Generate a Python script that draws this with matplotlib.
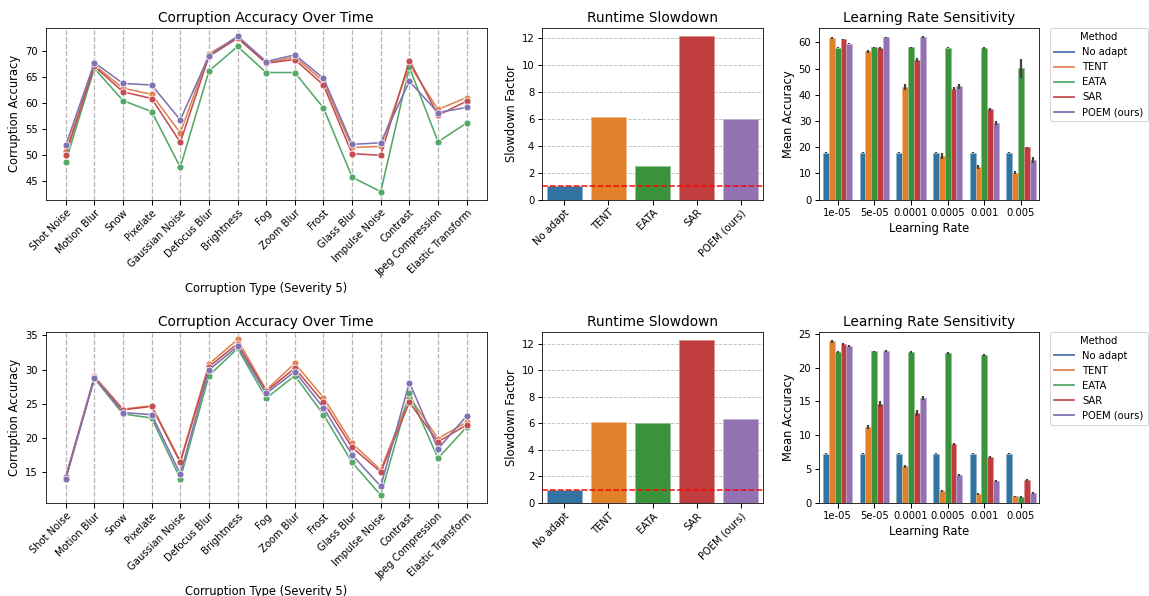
import numpy as np
import matplotlib
matplotlib.use("Agg")
import matplotlib.pyplot as plt
from matplotlib.lines import Line2D
import seaborn as sns

# ---------------- data ----------------
corruptions = ["Shot Noise", "Motion Blur", "Snow", "Pixelate", "Gaussian Noise",
               "Defocus Blur", "Brightness", "Fog", "Zoom Blur", "Frost",
               "Glass Blur", "Impulse Noise", "Contrast", "Jpeg Compression",
               "Elastic Transform"]
methods = ["No adapt", "TENT", "EATA", "SAR", "POEM (ours)"]
line_methods = ["TENT", "EATA", "SAR", "POEM (ours)"]
learning_rates = ["1e-05", "5e-05", "0.0001", "0.0005", "0.001", "0.005"]

# top row: accuracy per corruption
acc_top_tent = [50.7, 67.2, 62.8, 61.6, 54.2, 69.4, 72.6, 67.6, 68.8, 64.1, 51.4, 51.6, 67.3, 58.7, 61.0]
acc_top_eata = [48.7, 66.6, 60.4, 58.3, 47.6, 66.1, 70.8, 65.8, 65.8, 59.0, 45.7, 42.9, 66.8, 52.5, 56.1]
acc_top_sar = [50.0, 67.0, 62.1, 60.8, 52.4, 68.9, 72.4, 67.6, 68.3, 63.4, 50.2, 49.9, 68.1, 57.6, 60.3]
acc_top_poem = [51.8, 67.7, 63.7, 63.4, 56.7, 69.0, 72.8, 67.9, 69.2, 64.7, 52.0, 52.3, 64.1, 58.1, 59.1]

# bottom row: accuracy per corruption
acc_bot_tent = [14.3, 29.0, 24.2, 24.7, 16.6, 30.8, 34.4, 27.0, 30.9, 25.9, 19.2, 15.3, 26.0, 19.9, 22.3]
acc_bot_eata = [14.0, 28.7, 23.5, 22.9, 14.0, 29.1, 33.1, 25.8, 29.1, 23.4, 16.4, 11.6, 26.5, 17.0, 21.6]
acc_bot_sar = [14.2, 28.8, 24.1, 24.6, 16.4, 30.4, 33.8, 26.8, 30.2, 25.2, 18.6, 15.0, 25.2, 19.4, 21.9]
acc_bot_poem = [14.0, 28.8, 23.7, 23.4, 14.7, 29.95, 33.4, 26.5, 29.7, 24.4, 17.5, 12.9, 28.1, 18.4, 23.2]

# runtime slowdown factors
slowdown_top = [1.0, 6.15, 2.5, 12.15, 6.0]
slowdown_bot = [1.0, 6.1, 6.05, 12.3, 6.3]

# learning-rate sensitivity (mean accuracy and error half-widths), top row
lr_top_noadapt = [17.8, 17.8, 17.8, 17.8, 17.8, 17.8]
lr_top_tent = [61.8, 56.6, 43.0, 16.6, 12.3, 10.2]
lr_top_eata = [58.0, 58.1, 58.1, 58.0, 57.8, 50.1]
lr_top_sar = [61.2, 57.7, 53.3, 42.4, 34.4, 19.9]
lr_top_poem = [59.6, 61.9, 62.0, 43.2, 29.2, 15.1]
err_top_noadapt = [0.2, 0.2, 0.2, 0.2, 0.2, 0.2]
err_top_tent = [0.3, 0.6, 1.2, 1.0, 0.7, 0.5]
err_top_eata = [0.3, 0.3, 0.3, 0.3, 0.4, 3.6]
err_top_sar = [0.3, 0.6, 0.6, 0.5, 0.4, 0.3]
err_top_poem = [0.3, 0.3, 0.3, 0.8, 0.8, 1.3]

# learning-rate sensitivity, bottom row
lr_bot_noadapt = [7.3, 7.3, 7.3, 7.3, 7.3, 7.3]
lr_bot_tent = [23.9, 11.2, 5.4, 1.8, 1.3, 1.0]
lr_bot_eata = [22.3, 22.4, 22.3, 22.15, 21.85, 0.9]
lr_bot_sar = [23.55, 14.6, 13.3, 8.7, 6.8, 3.4]
lr_bot_poem = [23.15, 22.45, 15.45, 4.2, 3.2, 1.5]
err_bot_noadapt = [0.1, 0.1, 0.1, 0.1, 0.1, 0.1]
err_bot_tent = [0.2, 0.25, 0.2, 0.15, 0.15, 0.1]
err_bot_eata = [0.1, 0.1, 0.1, 0.1, 0.12, 0.1]
err_bot_sar = [0.15, 0.4, 0.45, 0.15, 0.15, 0.1]
err_bot_poem = [0.15, 0.2, 0.3, 0.15, 0.15, 0.15]

# ---------------- styling ----------------
line_colors = dict(zip(methods, sns.color_palette("deep", 5)))
bar_colors = dict(zip(methods, [sns.desaturate(c, 0.75) for c in sns.color_palette("tab10", 5)]))

TITLE_FS = 13.8
LABEL_FS = 11.5
TICK_FS = 10
LEGEND_FS = 10


def lighten(c, amt=0.45):
    c = np.array(matplotlib.colors.to_rgb(c))
    return tuple(c + (1 - c) * amt)


DPI = 72
W, H = 1149, 596
fig = plt.figure(figsize=(W / DPI, H / DPI), dpi=DPI)


def axes_px(x0, y0, x1, y1):
    return fig.add_axes([x0 / W, 1 - y1 / H, (x1 - x0) / W, (y1 - y0) / H])


def style_ticks(ax):
    ax.tick_params(axis="both", labelsize=TICK_FS, length=4.5, width=1.0)


rows = [
    dict(top=28.3, bottom=199.5,
         acc=[acc_top_tent, acc_top_eata, acc_top_sar, acc_top_poem],
         slow=slowdown_top,
         lr=[lr_top_noadapt, lr_top_tent, lr_top_eata, lr_top_sar, lr_top_poem],
         err=[err_top_noadapt, err_top_tent, err_top_eata, err_top_sar, err_top_poem]),
    dict(top=331.7, bottom=503.0,
         acc=[acc_bot_tent, acc_bot_eata, acc_bot_sar, acc_bot_poem],
         slow=slowdown_bot,
         lr=[lr_bot_noadapt, lr_bot_tent, lr_bot_eata, lr_bot_sar, lr_bot_poem],
         err=[err_bot_noadapt, err_bot_tent, err_bot_eata, err_bot_sar, err_bot_poem]),
]

for row in rows:
    # ---- accuracy across corruption types ----
    ax = axes_px(45.7, row["top"], 486.7, row["bottom"])
    x = np.arange(len(corruptions))
    for m, vals in zip(line_methods, row["acc"]):
        ax.plot(x, vals, color=line_colors[m], lw=1.6, marker="o", ms=7,
                mec="white", mew=0.8, label=m)
    ax.set_xticks(x)
    ax.set_xticklabels(corruptions, rotation=45, ha="right", rotation_mode="anchor")
    ax.grid(axis="x", linestyle="--", color="#b0b0b0", lw=1.3, alpha=0.9)
    ax.set_axisbelow(True)
    style_ticks(ax)
    ax.set_title("Corruption Accuracy Over Time", fontsize=TITLE_FS)
    ax.set_ylabel("Corruption Accuracy", fontsize=LABEL_FS)
    ax.set_xlabel("Corruption Type (Severity 5)", fontsize=LABEL_FS)

    # ---- runtime slowdown ----
    ax = axes_px(542.3, row["top"], 762.7, row["bottom"])
    xb = np.arange(len(methods))
    ax.bar(xb, row["slow"], width=0.8,
           color=[bar_colors[m] for m in methods],
           edgecolor=[lighten(bar_colors[m]) for m in methods], linewidth=0.8, zorder=2)
    ax.axhline(1.0, color="red", linestyle="--", lw=1.5, zorder=3)
    ax.set_xlim(-0.5, len(methods) - 0.5)
    ax.set_xticks(xb)
    ax.set_xticklabels(methods, rotation=45, ha="right", rotation_mode="anchor")
    ax.grid(axis="y", linestyle="--", color="#b0b0b0", lw=0.9, alpha=0.8)
    ax.set_axisbelow(True)
    style_ticks(ax)
    ax.set_title("Runtime Slowdown", fontsize=TITLE_FS)
    ax.set_ylabel("Slowdown Factor", fontsize=LABEL_FS)

    # ---- learning-rate sensitivity ----
    ax = axes_px(819.3, row["top"], 1039.3, row["bottom"])
    xl = np.arange(len(learning_rates))
    n = len(methods)
    bw = 0.8 / n
    for i, (m, vals, errs) in enumerate(zip(methods, row["lr"], row["err"])):
        pos = xl - 0.4 + bw * (i + 0.5)
        ax.bar(pos, vals, width=bw, color=bar_colors[m],
               edgecolor=lighten(bar_colors[m]), linewidth=0.6, zorder=2)
        ax.errorbar(pos, vals, yerr=errs, fmt="none", ecolor="#424242",
                    elinewidth=2.25, capsize=0, zorder=3)
    ax.set_xlim(-0.5, len(learning_rates) - 0.5)
    ax.set_xticks(xl)
    ax.set_xticklabels(learning_rates)
    style_ticks(ax)
    ax.set_title("Learning Rate Sensitivity", fontsize=TITLE_FS)
    ax.set_ylabel("Mean Accuracy", fontsize=LABEL_FS)
    ax.set_xlabel("Learning Rate", fontsize=LABEL_FS)
    handles = [Line2D([0], [0], color=line_colors[m], lw=1.8) for m in methods]
    ax.legend(handles, methods, title="Method", loc="upper left",
              bbox_to_anchor=(1.05, 1.0), borderaxespad=0.0, fontsize=LEGEND_FS,
              title_fontsize=LEGEND_FS)

fig.savefig("out.png", dpi=DPI)
